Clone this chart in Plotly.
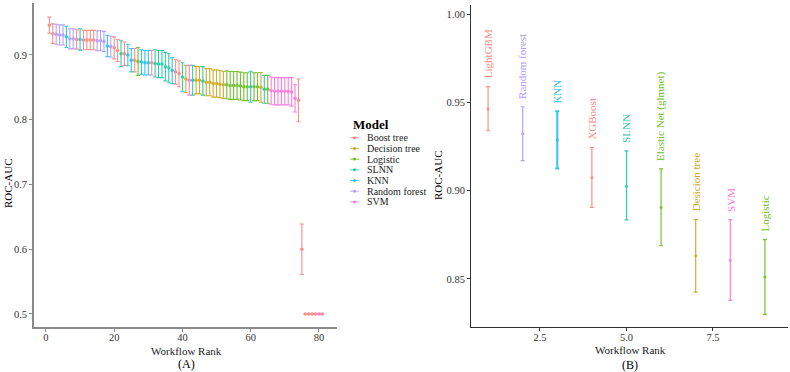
import plotly.graph_objects as go

# ---------------- data ----------------
model_order = ["Boost tree", "Decision tree", "Logistic", "SLNN", "KNN", "Random forest", "SVM"]
model_colors = ["#F8766D", "#C49A00", "#53B400", "#00C094", "#00B6EB", "#A58AFF", "#FB61D7"]

rank_A = list(range(1, 82))
model_A = (["Boost tree", "Boost tree", "Random forest", "Random forest", "Random forest", "KNN",
            "Random forest", "Random forest", "Boost tree", "KNN", "Boost tree", "Boost tree",
            "Boost tree", "Boost tree", "Random forest", "Random forest", "Random forest", "KNN",
            "Random forest", "Boost tree", "Boost tree", "SLNN", "Boost tree", "KNN", "KNN",
            "Boost tree", "Logistic", "KNN", "KNN", "KNN", "Boost tree", "SLNN", "SLNN", "SLNN",
            "SLNN", "SLNN", "KNN", "Boost tree", "Boost tree", "SLNN", "Decision tree", "SVM",
            "SLNN", "Decision tree", "Decision tree", "SLNN"]
           + ["Decision tree"] * 6 + ["Logistic"] * 7
           + ["SLNN", "Logistic", "Logistic", "Decision tree", "SLNN", "Logistic"]
           + ["SVM"] * 8
           + ["Boost tree", "Boost tree", "Boost tree", "Boost tree", "Boost tree", "Boost tree", "SVM", "Boost tree"])
mean_A = [0.946, 0.933, 0.932, 0.931, 0.931, 0.928, 0.925, 0.925, 0.924, 0.924,
          0.923, 0.923, 0.923, 0.923, 0.922, 0.922, 0.921, 0.914, 0.913, 0.911,
          0.907, 0.902, 0.902, 0.900, 0.892, 0.892, 0.890, 0.889, 0.888, 0.888,
          0.888, 0.887, 0.886, 0.886, 0.882, 0.880, 0.876, 0.874, 0.871, 0.866,
          0.863, 0.861, 0.861, 0.861, 0.861, 0.860, 0.858, 0.858, 0.856, 0.856,
          0.855, 0.854, 0.854, 0.853, 0.853, 0.853, 0.852, 0.851, 0.851, 0.851,
          0.851, 0.851, 0.850, 0.847, 0.847, 0.845, 0.844, 0.844, 0.844, 0.844,
          0.844, 0.843, 0.833, 0.830, 0.600, 0.500, 0.500, 0.500, 0.500, 0.500, 0.500]
err_A = [0.0125, 0.015, 0.0155, 0.0155, 0.0155, 0.0165, 0.0155, 0.0155, 0.015, 0.0165,
         0.015, 0.015, 0.015, 0.015, 0.0155, 0.0155, 0.0155, 0.0165, 0.016, 0.017,
         0.017, 0.020, 0.018, 0.0165, 0.018, 0.018, 0.0215, 0.019, 0.019, 0.019,
         0.019, 0.021, 0.021, 0.021, 0.022, 0.022, 0.020, 0.019, 0.020, 0.022,
         0.021, 0.023, 0.023, 0.021, 0.021, 0.022, 0.021, 0.021, 0.021, 0.021,
         0.021, 0.021, 0.0215, 0.0215, 0.0215, 0.0215, 0.0215, 0.0215, 0.0215, 0.024,
         0.0215, 0.0215, 0.023, 0.0215, 0.0215, 0.021, 0.021, 0.021, 0.021, 0.021,
         0.021, 0.022, 0.021, 0.033, 0.039, 0.0, 0.0, 0.0, 0.0, 0.0, 0.0]

rank_B = [1, 2, 3, 4, 5, 6, 7, 8, 9]
label_B = ["LightGBM", "Random forest", "KNN", "XGBoost", "SLNN", "Elastic Net (glmnet)",
           "Desicion tree", "SVM", "Logistic"]
model_B = ["Boost tree", "Random forest", "KNN", "Boost tree", "SLNN", "Logistic",
           "Decision tree", "SVM", "Logistic"]
mean_B = [0.9462, 0.9322, 0.9286, 0.9074, 0.9025, 0.8905, 0.8632, 0.8606, 0.8511]
lower_B = [0.9339, 0.9170, 0.9125, 0.8905, 0.8834, 0.8688, 0.8426, 0.8379, 0.8299]
upper_B = [0.9589, 0.9475, 0.9449, 0.9243, 0.9225, 0.9123, 0.8836, 0.8836, 0.8723]

# ---------------- figure ----------------
W, H = 790, 372
FONT = "Liberation Serif"
cmap = dict(zip(model_order, model_colors))


def px(x):
    return x / W


def py(y):
    return 1 - y / H


fig = go.Figure()

# Panel A: one trace per model
for m in model_order:
    idx = [i for i, mm in enumerate(model_A) if mm == m]
    fig.add_trace(go.Scatter(
        x=[rank_A[i] for i in idx], y=[mean_A[i] for i in idx],
        mode="markers", xaxis="x", yaxis="y", showlegend=False, name=m,
        marker=dict(color=cmap[m], size=3.5),
        opacity=0.8,
        error_y=dict(type="data", array=[err_A[i] for i in idx], color=cmap[m],
                     thickness=1.1, width=2),
    ))

# Panel B
for i in range(len(rank_B)):
    c = cmap[model_B[i]]
    fig.add_trace(go.Scatter(
        x=[rank_B[i]], y=[mean_B[i]], mode="markers", xaxis="x2", yaxis="y2",
        showlegend=False, marker=dict(color=c, size=3), opacity=0.8,
        error_y=dict(type="data", symmetric=False,
                     array=[upper_B[i] - mean_B[i]], arrayminus=[mean_B[i] - lower_B[i]],
                     color=c, thickness=2 if label_B[i] == "KNN" else 1.2, width=2),
    ))

annotations = []
for i in range(len(rank_B)):
    annotations.append(dict(
        x=rank_B[i], y=upper_B[i], xref="x2", yref="y2", text=label_B[i],
        textangle=-90, showarrow=False, xanchor="center", yanchor="bottom", yshift=6,
        font=dict(family=FONT, size=11, color=cmap[model_B[i]]), opacity=0.85))


def txt(x, y, text, size=11, angle=0, color="black", xa="center", ya="middle"):
    return dict(x=px(x), y=py(y), xref="paper", yref="paper", text=text, textangle=angle,
                showarrow=False, xanchor=xa, yanchor=ya,
                font=dict(family=FONT, size=size, color=color))


# axis titles
annotations += [
    txt(8, 183, "ROC-AUC", angle=-90),
    txt(438, 175, "ROC-AUC", angle=-90),
    txt(186, 350.5, "Workflow Rank", color="#222"),
    txt(186, 364, "(A)", size=12),
    txt(630, 350, "Workflow Rank", color="#222"),
    txt(630, 364.5, "(B)", size=12),
]

# manual legend
shapes = []
annotations.append(txt(351, 125, "<b>Model</b>", size=13, xa="left"))
for k, m in enumerate(model_order):
    yc = 137.7 + k * 10.7
    shapes.append(dict(type="line", xref="paper", yref="paper", x0=px(350), x1=px(359),
                       y0=py(yc), y1=py(yc), line=dict(color=cmap[m], width=1), opacity=0.7))
    shapes.append(dict(type="circle", xref="paper", yref="paper", x0=px(353), x1=px(356),
                       y0=py(yc + 1.5), y1=py(yc - 1.5), fillcolor=cmap[m],
                       line=dict(width=0), opacity=0.8))
    annotations.append(txt(365, yc, m, size=10, color="#222", xa="left"))

tickfont = dict(family=FONT, size=10.5, color="#333")
axA = dict(showgrid=False, zeroline=False, showline=True, linecolor="#8a8a8a", linewidth=1.6,
           ticks="outside", ticklen=3, tickcolor="#8a8a8a", tickfont=tickfont)
axB = dict(showgrid=False, zeroline=False, showline=True, linecolor="#333333", linewidth=1,
           ticks="outside", ticklen=3, tickcolor="#333333", tickfont=tickfont)

fig.update_layout(
    width=W, height=H, margin=dict(l=0, r=0, t=0, b=0),
    paper_bgcolor="white", plot_bgcolor="white", showlegend=False,
    xaxis=dict(domain=[px(34), px(337)], range=[-3.5, 85.3], tickvals=[0, 20, 40, 60, 80],
               anchor="y", ticklabelstandoff=-3, **axA),
    yaxis=dict(domain=[py(327), py(3)], range=[0.4799, 0.9803],
               tickvals=[0.5, 0.6, 0.7, 0.8, 0.9], anchor="x", **axA),
    xaxis2=dict(domain=[px(471), px(788)], range=[0.506, 9.668], tickvals=[2.5, 5.0, 7.5],
                tickformat=".1f", anchor="y2", ticklabelstandoff=-3, **axB),
    yaxis2=dict(domain=[py(327), py(5)], range=[0.8228, 1.0051],
                tickvals=[0.85, 0.90, 0.95, 1.00], tickformat=".2f", anchor="x2", **axB),
    annotations=annotations, shapes=shapes,
)

fig.write_html("out.html")
